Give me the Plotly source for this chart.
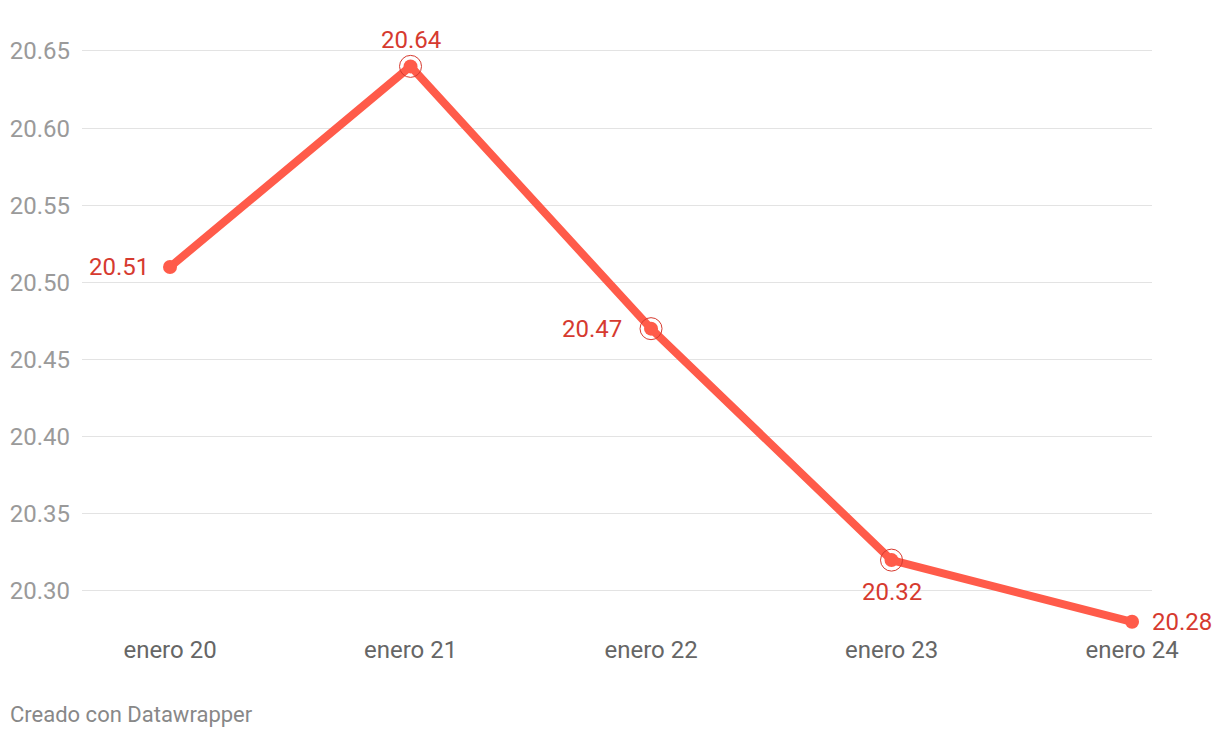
import plotly.graph_objects as go

categories = ["enero 20", "enero 21", "enero 22", "enero 23", "enero 24"]
values = [20.51, 20.64, 20.47, 20.32, 20.28]
label_text = ["20.51", "20.64", "20.47", "20.32", "20.28"]
ring_flags = [False, True, True, True, False]
y_ticks = [20.30, 20.35, 20.40, 20.45, 20.50, 20.55, 20.60, 20.65]

LINE = "#ff5b4a"
LABEL = "#d63a2f"
FONT = "Roboto"

xs = list(range(len(categories)))

fig = go.Figure()
fig.add_trace(go.Scatter(
    x=xs, y=values, mode="lines",
    line=dict(color=LINE, width=8),
    hoverinfo="skip", showlegend=False,
))
fig.add_trace(go.Scatter(
    x=xs, y=values, mode="markers",
    marker=dict(color=LINE, size=14, line=dict(width=0)),
    hoverinfo="skip", showlegend=False,
))
rx = [x for x, f in zip(xs, ring_flags) if f]
ry = [v for v, f in zip(values, ring_flags) if f]
fig.add_trace(go.Scatter(
    x=rx, y=ry, mode="markers",
    marker=dict(symbol="circle-open", size=22, color=LABEL, line=dict(width=1, color=LABEL)),
    hoverinfo="skip", showlegend=False,
))

placements = [
    dict(xanchor="right", yanchor="middle", xshift=-19, yshift=0),
    dict(xanchor="center", yanchor="middle", xshift=0, yshift=26),
    dict(xanchor="right", yanchor="middle", xshift=-27, yshift=0),
    dict(xanchor="center", yanchor="middle", xshift=0, yshift=-32),
    dict(xanchor="left", yanchor="middle", xshift=18, yshift=0),
]
for x, v, t, p in zip(xs, values, label_text, placements):
    fig.add_annotation(x=x, y=v, text=t, showarrow=False,
                       font=dict(family=FONT, size=24, color=LABEL), **p)

fig.add_annotation(x=0, y=0, xref="paper", yref="paper", xanchor="left", yanchor="middle",
                   text="Creado con Datawrapper", showarrow=False,
                   xshift=-74, yshift=-84,
                   font=dict(family=FONT, size=22, color="#888888"))

fig.update_layout(
    width=1212, height=730,
    margin=dict(l=74, r=68, t=32, b=108),
    paper_bgcolor="white", plot_bgcolor="white",
    font=dict(family=FONT),
    xaxis=dict(
        range=[-0.366, 4.083],
        tickvals=xs, ticktext=categories,
        showgrid=False, zeroline=False, showline=False,
        tickfont=dict(family=FONT, size=24, color="#666666"),
        ticks="", ticklabelstandoff=3, automargin=False,
    ),
    yaxis=dict(
        range=[20.2747, 20.6571],
        tickvals=y_ticks, ticktext=[f"{v:.2f}" for v in y_ticks],
        showgrid=True, gridcolor="#e3e3e3", gridwidth=1,
        zeroline=False, showline=False,
        tickfont=dict(family=FONT, size=24, color="#9a9a9a"),
        ticks="", ticklabelstandoff=11, automargin=False,
    ),
)

fig.write_html("out.html")
